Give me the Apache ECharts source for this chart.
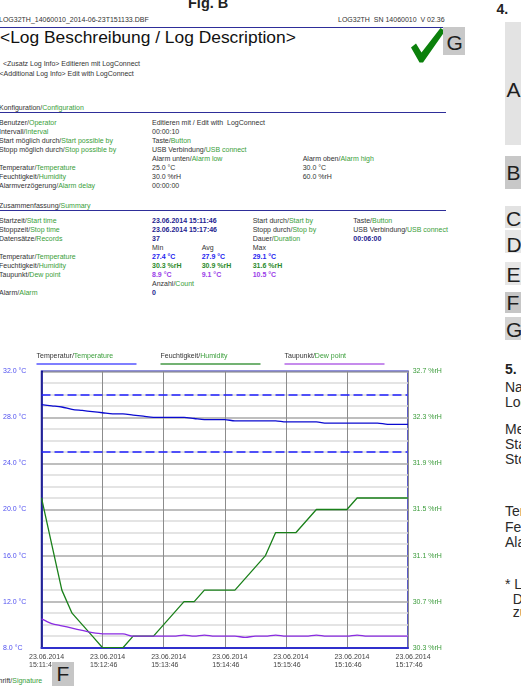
<!DOCTYPE html>
<html><head><meta charset="utf-8">
<script src="https://cdn.jsdelivr.net/npm/echarts@6/dist/echarts.min.js"></script>
<style>
html,body{margin:0;padding:0;width:521px;height:689px;overflow:hidden;background:#fff;position:relative;font-family:"Liberation Sans",Arial,sans-serif}
.s{position:absolute;font-size:7px;line-height:7px;color:#333;white-space:pre}
.g{color:#3a9e3a}
.nv{color:#23238f;font-weight:bold}
.bl{color:#2424f0;font-weight:bold}
.gr{color:#2a8a2a;font-weight:bold}
.pu{color:#9a3de8;font-weight:bold}
.hl{position:absolute;left:0;width:446px;height:1px;background:#2e2e99}
.box{position:absolute;font-size:21px;line-height:21px;color:#1e1e1e}
.bg{position:absolute}
.big{position:absolute;font-size:14px;line-height:14px;color:#2a2a2a;white-space:nowrap}
#chart{position:absolute;left:0;top:0;width:521px;height:689px;z-index:1}
</style></head>
<body>
<div class="big" style="left:188px;top:-4px;font-size:14.5px;line-height:14.5px;font-weight:bold;color:#222">Fig. B</div>
<div class="big" style="left:496.5px;top:1.5px;font-weight:bold;color:#222">4.</div>
<div class="hl" style="top:27px"></div>
<div class="hl" style="top:112.3px"></div>
<div class="hl" style="top:210.3px"></div>
<div class="big" style="left:0;top:28.6px;font-size:17.4px;line-height:17.4px;color:#111">&lt;Log Beschreibung / Log Description&gt;</div>
<svg style="position:absolute;left:405px;top:25px" width="45" height="45"><polygon points="6,22.5 11,18.5 16.5,27.5 35.5,3 40,6 18,37.5 14.5,37.5" fill="#0b800b"/></svg>
<div class="bg" style="left:443.3px;top:26.7px;width:21.7px;height:28.3px;background:#c8c8c8"></div>
<div class="box" style="left:446.5px;top:32.2px">G</div>

<div class="bg" style="left:505px;top:21.7px;width:30px;height:123.3px;background:#e3e3e3"></div>
<div class="box" style="left:506.5px;top:78.9px">A</div>
<div class="bg" style="left:505px;top:156px;width:30px;height:33px;background:#c8c8c8"></div>
<div class="box" style="left:506.5px;top:162.2px">B</div>
<div class="bg" style="left:505px;top:205.7px;width:30px;height:22.6px;background:#e2e2e2"></div>
<div class="box" style="left:506px;top:207.5px">C</div>
<div class="bg" style="left:505px;top:230px;width:30px;height:23.3px;background:#e6e6e6"></div>
<div class="box" style="left:506.5px;top:233.5px">D</div>
<div class="bg" style="left:505px;top:261.7px;width:30px;height:23.3px;background:#e6e6e6"></div>
<div class="box" style="left:506.5px;top:263.9px">E</div>
<div class="bg" style="left:505px;top:291.7px;width:30px;height:21.6px;background:#c6c6c6"></div>
<div class="box" style="left:506.5px;top:292.2px">F</div>
<div class="bg" style="left:505px;top:316.7px;width:30px;height:23.3px;background:#d3d3d3"></div>
<div class="box" style="left:506px;top:318.7px">G</div>

<div class="big" style="left:505px;top:361.5px;font-weight:bold;color:#222">5.</div>
<div class="big" style="left:505px;top:379.9px">Name</div>
<div class="big" style="left:505px;top:394.8px">Logger</div>
<div class="big" style="left:505px;top:421.5px">Messintervall</div>
<div class="big" style="left:505px;top:436.5px">Start</div>
<div class="big" style="left:505px;top:451.5px">Stopp</div>
<div class="big" style="left:505px;top:504.2px">Temperatur</div>
<div class="big" style="left:505px;top:519.9px">Feuchtigkeit</div>
<div class="big" style="left:505px;top:534.9px">Alarm</div>
<div class="big" style="left:505px;top:576.5px">* Log</div>
<div class="big" style="left:512.7px;top:591.5px">Die</div>
<div class="big" style="left:512.7px;top:605.2px">zu</div>

<div class="bg" style="left:51.7px;top:661.7px;width:22.3px;height:24px;background:#c6c6c6;z-index:2"></div>
<div class="box" style="left:56.5px;top:662.9px;z-index:3">F</div>

<div id="chart"></div>
<script>
// ---- document text rows ----
function T(x, y, html) {
  const d = document.createElement('div');
  d.className = 's';
  d.style.left = x + 'px';
  d.style.top = (y - 3.5) + 'px';
  d.innerHTML = html;
  document.body.appendChild(d);
}
const G = s => '<span class="g">' + s + '</span>';
const C = (c, s) => '<span class="' + c + '">' + s + '</span>';

T(-1, 19, 'LOG32TH_14060010_2014-06-23T151133.DBF');
T(338, 19, 'LOG32TH  SN 14060010  V 02.36');
T(3, 63.3, '&lt;Zusatz Log Info&gt; Editieren mit LogConnect');
T(-0.5, 73.5, '&lt;Additional Log Info&gt; Edit with LogConnect');
T(-1, 107, 'Konfiguration/' + G('Configuration'));
T(-1, 122.7, 'Benutzer/' + G('Operator')); T(152, 122.7, 'Editieren mit / Edit with  LogConnect');
T(-1, 131.7, 'Intervall/' + G('Interval')); T(152, 131.7, '00:00:10');
T(-1, 140.7, 'Start möglich durch/' + G('Start possible by')); T(152, 140.7, 'Taste/' + G('Button'));
T(-1, 149.7, 'Stopp möglich durch/' + G('Stop possible by')); T(152, 149.7, 'USB Verbindung/' + G('USB connect'));
T(152, 158.7, 'Alarm unten/' + G('Alarm low')); T(302.7, 158.7, 'Alarm oben/' + G('Alarm high'));
T(-1, 167.7, 'Temperatur/' + G('Temperature')); T(152, 167.7, '25.0 °C'); T(302.7, 167.7, '30.0 °C');
T(-1, 176.5, 'Feuchtigkeit/' + G('Humidity')); T(152, 176.5, '30.0 %rH'); T(302.7, 176.5, '60.0 %rH');
T(-1, 185.3, 'Alarmverzögerung/' + G('Alarm delay')); T(152, 185.3, '00:00:00');
T(-1, 205, 'Zusammenfassung/' + G('Summary'));
T(-1, 220.7, 'Startzeit/' + G('Start time')); T(152, 220.7, C('nv', '23.06.2014 15:11:46'));
T(252.7, 220.7, 'Start durch/' + G('Start by')); T(353.3, 220.7, 'Taste/' + G('Button'));
T(-1, 229.7, 'Stoppzeit/' + G('Stop time')); T(152, 229.7, C('nv', '23.06.2014 15:17:46'));
T(252.7, 229.7, 'Stopp durch/' + G('Stop by')); T(353.3, 229.7, 'USB Verbindung/' + G('USB connect'));
T(-1, 238.7, 'Datensätze/' + G('Records')); T(152, 238.7, C('nv', '37'));
T(252.7, 238.7, 'Dauer/' + G('Duration')); T(353.3, 238.7, C('nv', '00:06:00'));
T(152, 247.7, 'Min'); T(201.7, 247.7, 'Avg'); T(252.7, 247.7, 'Max');
T(-1, 256.7, 'Temperatur/' + G('Temperature')); T(152, 256.7, C('bl', '27.4 °C')); T(201.7, 256.7, C('bl', '27.9 °C')); T(252.7, 256.7, C('bl', '29.1 °C'));
T(-1, 265.5, 'Feuchtigkeit/' + G('Humidity')); T(152, 265.5, C('gr', '30.3 %rH')); T(201.7, 265.5, C('gr', '30.9 %rH')); T(252.7, 265.5, C('gr', '31.6 %rH'));
T(-1, 274.3, 'Taupunkt/' + G('Dew point')); T(152, 274.3, C('pu', '8.9 °C')); T(201.7, 274.3, C('pu', '9.1 °C')); T(252.7, 274.3, C('pu', '10.5 °C'));
T(152, 283.2, 'Anzahl/' + G('Count'));
T(-1, 292, 'Alarm/' + G('Alarm')); T(152, 292, C('nv', '0'));
T(-25.5, 680.7, 'Unterschrift/' + G('Signature'));

// ---- chart data ----
const dateLabel = '23.06.2014';
const times = ['15:11:46','15:11:56','15:12:06','15:12:16','15:12:26','15:12:36','15:12:46','15:12:56','15:13:06','15:13:16','15:13:26','15:13:36','15:13:46','15:13:56','15:14:06','15:14:16','15:14:26','15:14:36','15:14:46','15:14:56','15:15:06','15:15:16','15:15:26','15:15:36','15:15:46','15:15:56','15:16:06','15:16:16','15:16:26','15:16:36','15:16:46','15:16:56','15:17:06','15:17:16','15:17:26','15:17:36','15:17:46'];
const temperature = [29.1,29.0,28.9,28.7,28.6,28.5,28.4,28.3,28.3,28.2,28.1,28.0,28.0,28.0,28.0,27.9,27.8,27.8,27.8,27.7,27.7,27.7,27.7,27.7,27.6,27.6,27.6,27.6,27.5,27.5,27.5,27.5,27.5,27.5,27.4,27.4,27.4];
const humidity = [31.6,31.2,30.8,30.6,30.5,30.4,30.3,30.3,30.3,30.4,30.4,30.4,30.5,30.6,30.7,30.7,30.8,30.8,30.8,30.8,30.9,31.0,31.1,31.3,31.3,31.3,31.4,31.5,31.5,31.5,31.5,31.6,31.6,31.6,31.6,31.6,31.6];
const dewPoint = [10.5,10.1,9.9,9.7,9.5,9.3,9.2,9.2,9.2,9.0,9.0,9.0,9.0,9.0,9.1,9.0,9.1,9.0,9.0,9.0,8.9,9.0,9.0,9.1,9.0,9.0,9.0,9.1,9.0,9.0,9.0,9.1,9.0,9.0,9.0,9.0,9.0];
const tempAlarms = [30, 25];
const seriesNamesDe = ['Temperatur', 'Feuchtigkeit', 'Taupunkt'];
const seriesNamesEn = ['Temperature', 'Humidity', 'Dew point'];

const FONT = '"Liberation Sans", Arial, sans-serif';
const legendX = [36.5, 160.5, 284.5];
const legendColors = ['#5555ff', '#449944', '#b366e6'];
const graphic = [];
seriesNamesDe.forEach((de, i) => {
  graphic.push({
    type: 'text', x: legendX[i], y: 355.7, silent: true,
    style: {
      text: '{a|' + de + '/}{b|' + seriesNamesEn[i] + '}',
      verticalAlign: 'middle', fontSize: 7, fontFamily: FONT,
      rich: { a: { fill: '#333', fontSize: 7, fontFamily: FONT }, b: { fill: '#3a9e3a', fontSize: 7, fontFamily: FONT } }
    }
  });
  graphic.push({
    type: 'rect', silent: true,
    shape: { x: legendX[i], y: 363.2, width: 100, height: 1.6 },
    style: { fill: legendColors[i] }
  });
});

const chart = echarts.init(document.getElementById('chart'), null, { renderer: 'canvas' });
chart.setOption({
  animation: false,
  backgroundColor: 'transparent',
  textStyle: { fontFamily: FONT },
  graphic: graphic,
  grid: { left: 36.5, right: 113, top: 371.3, bottom: 41.3, show: true, borderColor: '#2424b8', borderWidth: 1.5 },
  xAxis: {
    type: 'category', data: times, boundaryGap: false,
    axisLine: { lineStyle: { color: '#3030cc', width: 2 } },
    axisTick: { show: false },
    splitLine: { show: true, interval: 5, lineStyle: { color: '#8c8c8c', width: 1 } },
    axisLabel: {
      interval: 5, align: 'center', margin: 5, padding: [0, 0, 0, 11],
      fontSize: 7, lineHeight: 8, color: '#444', fontFamily: FONT,
      formatter: v => '{d|' + dateLabel + '}\n{d|' + v + '}',
      rich: { d: { width: 36, align: 'left', fontSize: 7, lineHeight: 8, color: '#444', fontFamily: FONT } }
    }
  },
  yAxis: [
    {
      type: 'value', min: 8, max: 32, interval: 4, position: 'left',
      axisLine: { show: true, lineStyle: { color: '#000090', width: 1.5 } },
      axisTick: { show: false },
      splitLine: { lineStyle: { color: '#a9a9a9', width: 1.5 } },
      minorTick: { show: false, splitNumber: 4 },
      minorSplitLine: { show: true, lineStyle: { color: '#dcdcdc', width: 1.5 } },
      axisLabel: { align: 'left', margin: 38.5, fontSize: 7, color: '#5050f0', fontFamily: FONT, formatter: v => v.toFixed(1) + ' °C' }
    },
    {
      type: 'value', min: 30.3, max: 32.7, alignTicks: true, position: 'right',
      axisLine: { show: false }, axisTick: { show: false }, splitLine: { show: false },
      axisLabel: { margin: 4.7, fontSize: 7, color: '#3c9c3c', fontFamily: FONT, formatter: v => v.toFixed(1) + ' %rH' }
    }
  ],
  series: [
    {
      name: seriesNamesDe[0], type: 'line', yAxisIndex: 0, data: temperature,
      showSymbol: false, smooth: 0.3, lineStyle: { color: '#0a0ad0', width: 1.3 },
      markLine: {
        silent: true, symbol: ['none', 'none'], label: { show: false },
        lineStyle: { color: '#2020ff', type: [9, 4], width: 1.5 },
        data: tempAlarms.map(v => ({ yAxis: v }))
      }
    },
    {
      name: seriesNamesDe[1], type: 'line', yAxisIndex: 1, data: humidity,
      showSymbol: false, lineStyle: { color: '#1a801a', width: 1.3 }
    },
    {
      name: seriesNamesDe[2], type: 'line', yAxisIndex: 0, data: dewPoint,
      showSymbol: false, smooth: 0.3, lineStyle: { color: '#8a2be2', width: 1.3 }
    }
  ]
});
</script>
</body></html>
